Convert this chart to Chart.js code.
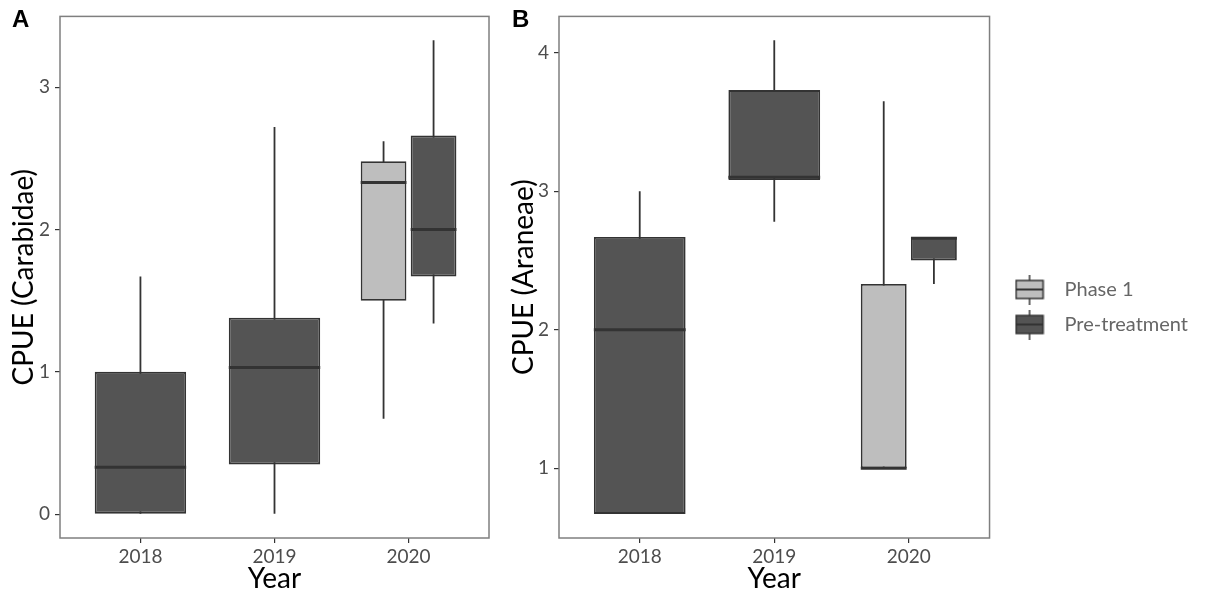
<!DOCTYPE html>
<html>
<head>
<meta charset="utf-8">
<script src="https://cdn.jsdelivr.net/npm/chart.js@4.4.1/dist/chart.umd.min.js"></script>
<style>
  html, body { margin: 0; padding: 0; background: #fff; }
  #wrap { position: relative; width: 1217px; height: 596px; }
  .panel { position: absolute; top: 0; height: 596px; }
  #panelA { left: 0; width: 500px; }
  #panelB { left: 500px; width: 717px; }
</style>
</head>
<body>
<div id="wrap">
  <div class="panel" id="panelA"><canvas id="chartA"></canvas></div>
  <div class="panel" id="panelB"><canvas id="chartB"></canvas></div>
</div>
<script>
const years = ['2018', '2019', '2020'];
const groups = ['Phase 1', 'Pre-treatment'];
const groupFills = ['#bebebe', '#545454'];

// Panel A - CPUE (Carabidae)
const carabPhase1Low  = [null, null, 0.67];
const carabPhase1Q1   = [null, null, 1.5];
const carabPhase1Med  = [null, null, 2.33];
const carabPhase1Q3   = [null, null, 2.48];
const carabPhase1High = [null, null, 2.62];

const carabPreLow  = [0, 0, 1.34];
const carabPreQ1   = [0, 0.35, 1.67];
const carabPreMed  = [0.33, 1.03, 2.0];
const carabPreQ3   = [1.0, 1.38, 2.66];
const carabPreHigh = [1.67, 2.72, 3.33];

// Panel B - CPUE (Araneae)
const aranPhase1Low  = [null, null, 1.0];
const aranPhase1Q1   = [null, null, 1.0];
const aranPhase1Med  = [null, null, 1.0];
const aranPhase1Q3   = [null, null, 2.33];
const aranPhase1High = [null, null, 3.65];

const aranPreLow  = [0.67, 2.78, 2.33];
const aranPreQ1   = [0.67, 3.08, 2.5];
const aranPreMed  = [2.0, 3.1, 2.66];
const aranPreQ3   = [2.67, 3.73, 2.67];
const aranPreHigh = [3.0, 4.09, 2.67];

const carabRange = [-0.167, 3.497];
const aranRange = [0.496, 4.262];

const INK = '#333333';
const FONT = 'Lato';

// box width settings (same for single and dodged boxes)
const CAT_PCT = 0.746;
const BAR_PCT = 0.914;

// builds floating-bar datasets: one box + one whisker per group,
// split into "single" (only group in that year) and "dodged" (both groups)
function boxDatasets(stats) {
  const sets = [];
  stats.forEach((g, gi) => {
    const other = stats[1 - gi];
    const single = [];
    const dodged = [];
    years.forEach((yr, i) => {
      if (g.q1[i] === null) return;
      (other.q1[i] === null ? single : dodged).push(i);
    });
    [[single, false], [dodged, true]].forEach(([idx, grouped]) => {
      if (!idx.length) return;
      const common = {
        grouped: grouped,
        stack: g.label,
        categoryPercentage: CAT_PCT,
        barPercentage: BAR_PCT,
        borderSkipped: false
      };
      sets.push(Object.assign({
        label: g.label,
        isBox: true,
        medians: idx.map(i => g.med[i]),
        data: idx.map(i => ({ x: i + 1, y: [g.q1[i], g.q3[i]] })),
        backgroundColor: g.fill,
        borderColor: INK,
        borderWidth: 1.8,
        order: 1
      }, common));
      sets.push(Object.assign({
        label: g.label + ' whisker',
        data: idx.map(i => ({ x: i + 1, y: [g.low[i], g.high[i]] })),
        backgroundColor: INK,
        borderWidth: 0,
        maxBarThickness: 1.8,
        order: 2
      }, common));
    });
  });
  return sets;
}

function makeIcon(fill) {
  const c = document.createElement('canvas');
  c.width = 30; c.height = 30;
  const g = c.getContext('2d');
  g.strokeStyle = INK;
  g.lineWidth = 1.5;
  g.beginPath(); g.moveTo(15, 0); g.lineTo(15, 30); g.stroke();
  g.fillStyle = fill;
  g.fillRect(1.5, 6, 27, 18);
  g.strokeRect(1.5, 6, 27, 18);
  g.lineWidth = 2;
  g.beginPath(); g.moveTo(1.5, 15); g.lineTo(28.5, 15); g.stroke();
  return c;
}
const icons = groupFills.map(makeIcon);

// medians, panel frame and panel letter
const panelDecor = {
  id: 'panelDecor',
  afterDatasetsDraw(chart) {
    const ctx = chart.ctx;
    const yScale = chart.scales.y;
    ctx.save();
    ctx.strokeStyle = INK;
    ctx.lineWidth = 3;
    chart.data.datasets.forEach((ds, di) => {
      if (!ds.isBox) return;
      chart.getDatasetMeta(di).data.forEach((el, i) => {
        const m = ds.medians[i];
        if (m === null || m === undefined) return;
        const { x, width } = el.getProps(['x', 'width'], true);
        const y = yScale.getPixelForValue(m);
        ctx.beginPath();
        ctx.moveTo(x - width / 2, y);
        ctx.lineTo(x + width / 2, y);
        ctx.stroke();
      });
    });
    ctx.restore();
  },
  afterDraw(chart, args, opts) {
    const { ctx, chartArea: a } = chart;
    ctx.save();
    ctx.strokeStyle = '#7f7f7f';
    ctx.lineWidth = 1.5;
    ctx.strokeRect(a.left, a.top, a.right - a.left, a.bottom - a.top);
    ctx.fillStyle = '#000';
    ctx.font = 'bold 24px "Liberation Sans", Arial, sans-serif';
    ctx.textBaseline = 'alphabetic';
    ctx.fillText(opts.letter, 12, 27);
    ctx.restore();
  }
};

function makeChart(canvasId, letter, yTitle, yRange, stats, showLegend) {
  const ctx = document.getElementById(canvasId).getContext('2d');
  return new Chart(ctx, {
    type: 'bar',
    data: { datasets: boxDatasets(stats) },
    plugins: [panelDecor],
    options: {
      responsive: true,
      maintainAspectRatio: false,
      animation: false,
      layout: { padding: { top: 6, right: showLegend ? 19 : 11, bottom: 0, left: 0 } },
      scales: {
        x: {
          type: 'linear',
          min: 0.4,
          max: 3.6,
          offset: false,
          afterFit: s => { s.height = 58; },
          border: { display: false },
          grid: { offset: false, drawOnChartArea: false, drawTicks: true, tickLength: 5, color: INK, lineWidth: 1.2 },
          ticks: {
            stepSize: 1,
            includeBounds: false,
            padding: 2,
            color: '#4d4d4d',
            font: { family: FONT, size: 19 },
            callback: v => years[v - 1] || ''
          },
          title: { display: true, text: 'Year', color: '#000', font: { family: FONT, size: 28 }, padding: { top: 0, bottom: 0 } }
        },
        y: {
          min: yRange[0],
          max: yRange[1],
          stacked: false,
          beginAtZero: false,
          afterFit: s => { s.width = letter === 'A' ? 60 : 59; },
          border: { display: false },
          grid: { drawOnChartArea: false, drawTicks: true, tickLength: 5, color: INK, lineWidth: 1.2 },
          ticks: {
            stepSize: 1,
            includeBounds: false,
            padding: 5,
            color: '#4d4d4d',
            font: { family: FONT, size: 19 }
          },
          title: { display: true, text: yTitle, color: '#000', font: { family: FONT, size: 28 }, padding: { top: 7, bottom: 0 } }
        }
      },
      plugins: {
        panelDecor: { letter: letter },
        tooltip: { enabled: false },
        legend: {
          display: showLegend,
          position: 'right',
          maxWidth: 240,
          onClick: null,
          title: { display: true, text: '', padding: 0, font: { size: 10, lineHeight: 1.2 } },
          labels: {
            usePointStyle: true,
            pointStyleWidth: 50,
            padding: 15,
            color: '#111',
            font: { family: FONT, size: 20 },
            generateLabels: () => groups.map((g, k) => ({
              text: g,
              pointStyle: icons[k],
              fillStyle: groupFills[k],
              strokeStyle: INK,
              lineWidth: 0,
              hidden: false,
              datasetIndex: k
            }))
          }
        }
      }
    }
  });
}

makeChart('chartA', 'A', 'CPUE (Carabidae)', carabRange, [
  { label: groups[0], fill: groupFills[0], low: carabPhase1Low, q1: carabPhase1Q1, med: carabPhase1Med, q3: carabPhase1Q3, high: carabPhase1High },
  { label: groups[1], fill: groupFills[1], low: carabPreLow, q1: carabPreQ1, med: carabPreMed, q3: carabPreQ3, high: carabPreHigh }
], false);

makeChart('chartB', 'B', 'CPUE (Araneae)', aranRange, [
  { label: groups[0], fill: groupFills[0], low: aranPhase1Low, q1: aranPhase1Q1, med: aranPhase1Med, q3: aranPhase1Q3, high: aranPhase1High },
  { label: groups[1], fill: groupFills[1], low: aranPreLow, q1: aranPreQ1, med: aranPreMed, q3: aranPreQ3, high: aranPreHigh }
], true);
</script>
</body>
</html>
